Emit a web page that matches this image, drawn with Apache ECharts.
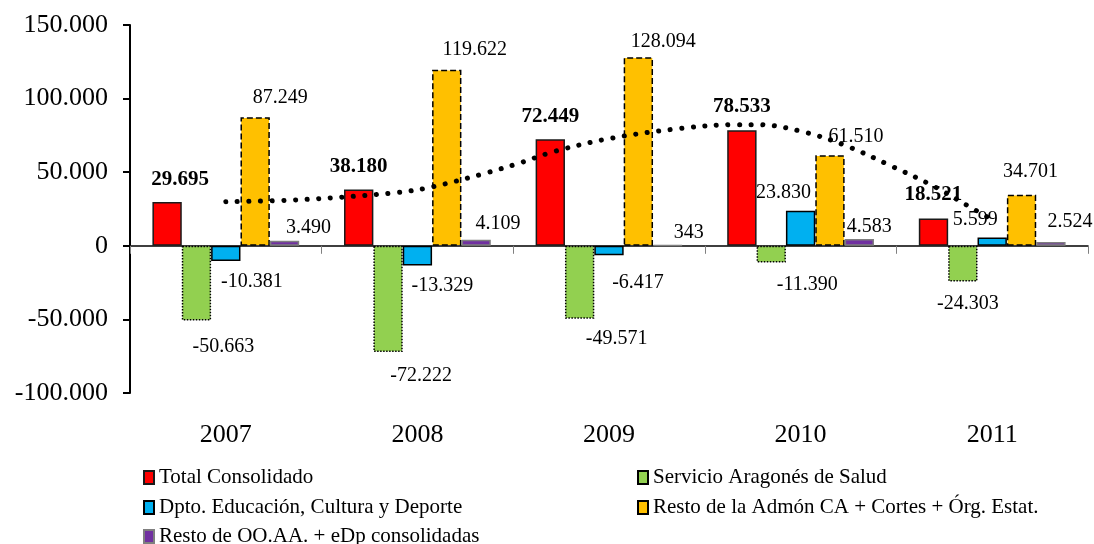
<!DOCTYPE html>
<html>
<head>
<meta charset="utf-8">
<script src="https://cdn.jsdelivr.net/npm/echarts@6/dist/echarts.min.js"></script>
<style>
html,body{margin:0;padding:0;background:#fff;}
#chart{width:1094px;height:544px;}
</style>
</head>
<body>
<div id="chart"></div>
<script>
// ---- data ----
const categories = ['2007', '2008', '2009', '2010', '2011'];
const totalConsolidado = [29695, 38180, 72449, 78533, 18521];
const servicioSalud = [-50663, -72222, -49571, -11390, -24303];
const dptoEducacion = [-10381, -13329, -6417, 23830, 5599];
const restoAdmon = [87249, 119622, 128094, 61510, 34701];
const restoOOAA = [3490, 4109, 343, 4583, 2524];
// dotted trend curve over Total Consolidado (x = category index)
const trendX = [0, 0.385, 0.89, 1.08, 1.365, 1.54, 1.71, 2.0, 2.365, 2.66, 2.78, 3.03, 3.25, 3.47, 3.69, 3.89, 4.0];
const trendY = [29900, 31300, 36100, 40100, 49700, 56500, 63900, 72800, 79600, 82300, 82300, 76900, 67300, 54400, 40800, 25900, 17700];

const seriesNames = [
  'Total Consolidado',
  'Servicio Aragonés de Salud',
  'Dpto. Educación, Cultura y Deporte',
  'Resto de la Admón CA + Cortes + Órg. Estat.',
  'Resto de OO.AA. + eDp consolidadas'
];

// ---- label placement (style only) ----
const offRed = [[13, -12], [0, -13], [0, -12], [0, -13], [0, -13]];
const offGreen = [[27, 16], [33, 14], [37, 10], [36, 12], [5, 12]];
const offBlue = [[26, 11], [25, 10], [29, 18], [-17, -8], [-17, -8]];
const offYellow = [[25, -10], [28, -10], [25, -5], [26, -9], [9, -13]];
const offPurple = [[24, -3], [22, -6], [21, -2], [10, -2], [19, -10]];

const FONT = "'Liberation Serif', 'Times New Roman', serif";

function fmt(v) {
  const s = Math.abs(Math.round(v)).toString().replace(/\B(?=(\d{3})+(?!\d))/g, '.');
  return (v < 0 ? '-' : '') + s;
}

function items(values, offs, bold) {
  return values.map((v, i) => ({
    value: v,
    label: {
      position: v < 0 ? 'bottom' : 'top',
      distance: 0,
      offset: offs[i],
      fontWeight: bold ? 'bold' : 'normal',
      fontSize: bold ? 21 : 20
    }
  }));
}

function barSeries(name, values, offs, color, borderColor, borderType, bold) {
  return {
    name: name,
    type: 'bar',
    xAxisIndex: 0,
    yAxisIndex: 0,
    barGap: '0%',
    barCategoryGap: '23.4%',
    data: items(values, offs, bold),
    itemStyle: { color: color, borderColor: borderColor, borderWidth: 1.5, borderType: borderType },
    label: {
      show: true,
      color: '#000',
      fontFamily: FONT,
      formatter: p => fmt(p.value)
    },
    emphasis: { disabled: true },
    z: 2
  };
}

const chart = echarts.init(document.getElementById('chart'), null, { renderer: 'canvas' });

const legendText = { fontSize: 21, fontFamily: FONT, color: '#000' };
function legendAt(name, left, top) {
  return {
    data: [name], orient: 'horizontal', left: left, top: top,
    icon: 'rect', itemWidth: 10, itemHeight: 13, itemGap: 5,
    selectedMode: false, textStyle: legendText, padding: 0
  };
}

const option = {
  animation: false,
  backgroundColor: '#fff',
  grid: { left: 130, right: 6, top: 25, bottom: 151, containLabel: false },
  legend: [
    legendAt(seriesNames[0], 143, 467),
    legendAt(seriesNames[2], 143, 497),
    legendAt(seriesNames[4], 143, 526),
    legendAt(seriesNames[1], 637, 467),
    legendAt(seriesNames[3], 637, 497)
  ],
  xAxis: [
    {
      type: 'category', data: categories, gridIndex: 0,
      axisLine: { show: true, onZero: true, lineStyle: { color: '#000', width: 1.5 } },
      axisTick: { show: true, inside: false, length: 8, lineStyle: { color: '#808080', width: 1 } },
      axisLabel: { show: false },
      splitLine: { show: false }
    },
    {
      type: 'category', data: categories, gridIndex: 0, position: 'bottom',
      axisLine: { show: false, onZero: false },
      axisTick: { show: false },
      axisLabel: { show: true, margin: 29, fontSize: 26, fontFamily: FONT, color: '#000' },
      splitLine: { show: false }
    },
    {
      type: 'value', gridIndex: 0, min: -0.5, max: 4.5, show: false
    }
  ],
  yAxis: [
    {
      type: 'value', min: -100000, max: 150000, interval: 50000,
      axisLine: { show: true, onZero: false, lineStyle: { color: '#000', width: 2 } },
      axisTick: { show: true, length: 7, lineStyle: { color: '#000', width: 2 } },
      axisLabel: { margin: 22, fontSize: 26, fontFamily: FONT, color: '#000', formatter: v => fmt(v) },
      splitLine: { show: false }
    }
  ],
  series: [
    barSeries(seriesNames[0], totalConsolidado, offRed, '#FF0000', '#1a1a1a', 'solid', true),
    barSeries(seriesNames[1], servicioSalud, offGreen, '#92D050', '#000', 'dotted', false),
    barSeries(seriesNames[2], dptoEducacion, offBlue, '#00B0F0', '#000', 'solid', false),
    barSeries(seriesNames[3], restoAdmon, offYellow, '#FFC000', '#000', 'dashed', false),
    barSeries(seriesNames[4], restoOOAA, offPurple, '#7030A0', '#7f7f7f', 'solid', false),
    {
      name: 'Tendencia',
      type: 'line',
      xAxisIndex: 2,
      yAxisIndex: 0,
      data: trendX.map((x, i) => [x, trendY[i]]),
      smooth: 0.35,
      symbol: 'none',
      silent: true,
      lineStyle: { color: '#000', width: 5, type: [0.1, 11.5], cap: 'round' },
      z: 5
    }
  ]
};

chart.setOption(option);
</script>
</body>
</html>
